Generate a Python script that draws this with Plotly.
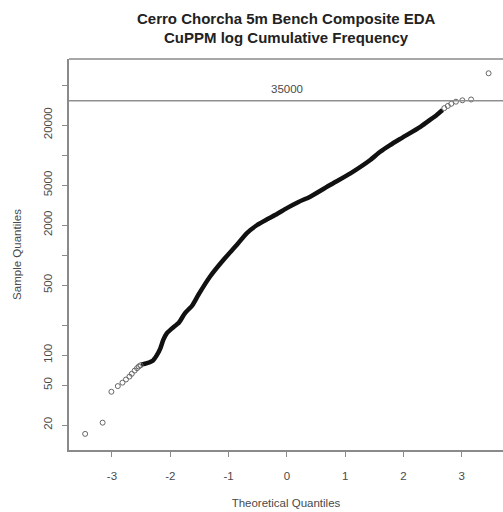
import math
import plotly.graph_objects as go

# Sparse tail points (theoretical quantile, sample CuPPM)
low_tail_q = [-3.46, -3.16, -3.01, -2.90, -2.82, -2.76, -2.70, -2.66, -2.61, -2.57, -2.54, -2.51]
low_tail_v = [16.3, 21.1, 43, 49, 53, 57, 61, 65, 70, 74, 77, 79]

# Dense body of the QQ curve
body_q = [-2.50, -2.40, -2.30, -2.23, -2.17, -2.12, -2.06, -1.97, -1.85, -1.75, -1.62,
          -1.52, -1.32, -1.09, -0.86, -0.69, -0.51, -0.34, -0.17, 0.00, 0.20, 0.40,
          0.74, 1.09, 1.43, 1.60, 1.77, 1.94, 2.29, 2.46, 2.57, 2.67]
body_v = [80, 83, 88, 100, 117, 142, 165, 185, 212, 262, 315,
          399, 608, 893, 1262, 1652, 2000, 2280, 2576, 2950, 3400, 3840,
          5020, 6570, 8930, 10800, 12600, 14500, 19200, 22600, 25200, 28200]

high_tail_q = [2.70, 2.76, 2.82, 2.90, 3.01, 3.16, 3.46]
high_tail_v = [29500, 31000, 32600, 34200, 35300, 36000, 65800]

cap_value = 35000
cap_label = "35000"

title_lines = ["Cerro Chorcha 5m Bench Composite EDA", "CuPPM log Cumulative Frequency"]

y_tickvals = [20, 50, 100, 200, 500, 1000, 2000, 5000, 10000, 20000, 50000]
y_ticktext = ["20", "50", "100", "", "500", "", "2000", "5000", "", "20000", ""]
x_tickvals = [-3, -2, -1, 0, 1, 2, 3]

axis_col = "#8a8a8a"
txt_col = "#4a4a4a"
font_fam = "Liberation Sans, Arial, sans-serif"

fig = go.Figure()
fig.add_trace(go.Scatter(x=body_q, y=body_v, mode="lines",
                         line=dict(color="#111111", width=4.5, shape="spline", smoothing=0.6),
                         hoverinfo="skip"))
fig.add_trace(go.Scatter(x=low_tail_q + high_tail_q, y=low_tail_v + high_tail_v, mode="markers",
                         marker=dict(symbol="circle-open", size=5, color="#666666",
                                     line=dict(width=1, color="#666666"))))

fig.add_shape(type="line", xref="paper", x0=0, x1=1, yref="y", y0=cap_value, y1=cap_value,
              line=dict(color="#8f8f8f", width=1.5))
fig.add_shape(type="line", xref="paper", x0=0, x1=1, yref="paper", y0=1, y1=1,
              line=dict(color=axis_col, width=1.5))
# annotations on a log axis take log10 coordinates
fig.add_annotation(x=0, y=math.log10(cap_value), xref="x", yref="y", text=cap_label,
                   showarrow=False, yshift=12,
                   font=dict(size=11.5, color=txt_col, family=font_fam))

# Two-line bold title placed above the plot box
for line_text, shift in zip(title_lines, [41, 22]):
    fig.add_annotation(x=0.5, y=1, xref="paper", yref="paper", text="<b>%s</b>" % line_text,
                       showarrow=False, yshift=shift, xanchor="center", yanchor="middle",
                       font=dict(size=15, color="#222222", family=font_fam))

fig.update_layout(
    width=503, height=512,
    margin=dict(l=69, r=0, t=59, b=62),
    paper_bgcolor="white", plot_bgcolor="white",
    showlegend=False,
    font=dict(family=font_fam, color=txt_col, size=11.5),
    xaxis=dict(range=[-3.737, 3.707], tickvals=x_tickvals, ticktext=[str(v) for v in x_tickvals],
               showgrid=False, zeroline=False, showline=True, linecolor=axis_col, linewidth=1.5,
               ticks="outside", ticklen=5, tickcolor=axis_col, ticklabelstandoff=9,
               tickfont=dict(size=11.5, color=txt_col),
               title=dict(text="Theoretical Quantiles", font=dict(size=11.5, color=txt_col), standoff=18)),
    yaxis=dict(type="log", range=[1.051, 4.961], tickvals=y_tickvals, ticktext=y_ticktext,
               tickangle=-90, showgrid=False, zeroline=False, showline=True, linecolor=axis_col,
               linewidth=1.5, ticks="outside", ticklen=5, tickcolor=axis_col, ticklabelstandoff=6,
               tickfont=dict(size=11.5, color=txt_col),
               title=dict(text="Sample Quantiles", font=dict(size=11.5, color=txt_col), standoff=18)),
)

fig.write_html("out.html")
